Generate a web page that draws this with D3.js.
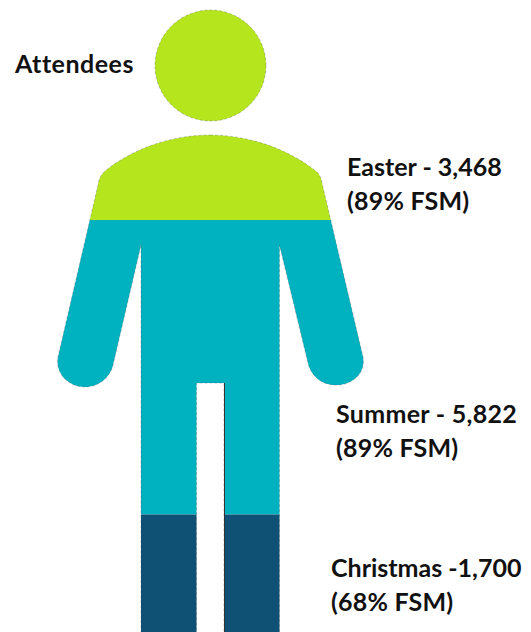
<!DOCTYPE html>
<html>
<head>
<meta charset="utf-8">
<script src="https://cdn.jsdelivr.net/npm/d3@7"></script>
<style>
html, body { margin: 0; padding: 0; background: #fff; }
svg { display: block; }
</style>
</head>
<body>
<svg></svg>
<script>
var seasons = ["Easter", "Summer", "Christmas"];
var attendees = [3468, 5822, 1700];
var fsmShare = [89, 89, 68];
var seasonColors = ["#B5E61D", "#00B2BF", "#0F5075"];

const svgWidth = 531,
    svgHeight = 632;

// the picture's bands are not strictly proportional, so the scale has one stop per season
var totals = d3.cumsum(attendees);
var y = d3.scaleLinear()
    .domain([0, totals[0], totals[1], totals[2]])
    .range([10, 220, 514.5, 632]);

var svg = d3.select("svg")
    .attr("width", svgWidth)
    .attr("height", svgHeight);

var bands = seasons.map((s, i) => ({
    season: s,
    from: i ? totals[i - 1] : 0,
    to: totals[i],
    count: attendees[i],
    fsm: fsmShare[i]
}));

// person outline, head and body
var head = d3.path();
head.arc(210.5, 65.5, 55.5, 0, 2 * Math.PI);
head.closePath();

var body = d3.path();
body.moveTo(210, 135);
body.bezierCurveTo(250, 135, 290, 150, 317, 172);
body.quadraticCurveTo(321, 176, 322, 183);
body.lineTo(363, 357);
body.bezierCurveTo(366, 374, 351, 386, 335, 385);
body.bezierCurveTo(322, 385, 311, 376, 308, 363);
body.lineTo(279.5, 245);
body.lineTo(279.5, 640);
body.lineTo(224, 640);
body.lineTo(224, 383);
body.lineTo(196.5, 383);
body.lineTo(196.5, 640);
body.lineTo(141, 640);
body.lineTo(141, 245);
body.lineTo(113, 365);
body.bezierCurveTo(110, 378, 98, 387, 85, 387);
body.bezierCurveTo(68, 387, 55, 373, 58, 357);
body.lineTo(98, 185);
body.quadraticCurveTo(99, 177, 104, 172);
body.bezierCurveTo(130, 150, 170, 135, 210, 135);
body.closePath();

var personPath = head.toString() + body.toString();

svg.append("clipPath")
    .attr("id", "person")
    .append("path")
    .attr("d", personPath);

svg.append("g")
    .attr("clip-path", "url(#person)")
    .selectAll("rect")
    .data(bands)
    .enter()
    .append("rect")
    .attr("x", 0)
    .attr("width", svgWidth)
    .attr("y", d => y(d.from))
    .attr("height", d => y(d.to) - y(d.from))
    .style("fill", (d, i) => seasonColors[i]);

// thin dark edge the original shape has
svg.append("path")
    .attr("d", personPath)
    .attr("fill", "none")
    .attr("stroke", "#444")
    .attr("stroke-width", 0.5)
    .attr("stroke-opacity", 0.6)
    .attr("stroke-dasharray", "3 2");

// darker edge on the right side of the gap between the legs
svg.append("line")
    .attr("x1", 224.5)
    .attr("x2", 224.5)
    .attr("y1", 383)
    .attr("y2", svgHeight)
    .attr("stroke", "#333")
    .attr("stroke-width", 1);

// labels
var labelX = [347, 336, 331];
var labelY = [176, 423, 577];
var labelSpacing = [0, 0.3, 0];
var lineGap = 34;
var fmt = d3.format(",");
var sep = [" - ", " - ", " -"];

var labels = svg.append("g")
    .attr("font-family", "Lato")
    .attr("font-weight", 700)
    .attr("font-size", 25)
    .attr("letter-spacing", 0.2)
    .attr("fill", "#111");

labels.append("text")
    .attr("x", 15)
    .attr("y", 73)
    .attr("letter-spacing", 0.5)
    .text("Attendees");

var label = labels.selectAll(".season")
    .data(bands)
    .enter()
    .append("text")
    .attr("class", "season");

label.append("tspan")
    .attr("x", (d, i) => labelX[i])
    .attr("y", (d, i) => labelY[i])
    .attr("letter-spacing", (d, i) => labelSpacing[i])
    .text((d, i) => d.season + sep[i] + fmt(d.count));

label.append("tspan")
    .attr("x", (d, i) => labelX[i])
    .attr("y", (d, i) => labelY[i] + lineGap)
    .text(d => "(" + d.fsm + "% FSM)");
</script>
</body>
</html>
